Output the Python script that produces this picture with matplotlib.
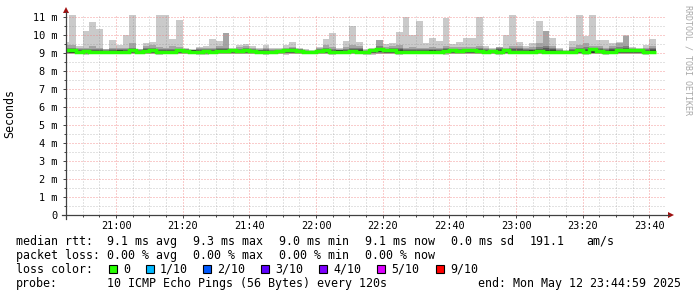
import numpy as np
import matplotlib
matplotlib.use("Agg")
import matplotlib.pyplot as plt
from matplotlib.patches import Rectangle, Polygon
from matplotlib.lines import Line2D

W, H = 697, 297

# 2-minute buckets starting at 20:44 (minutes since midnight)
start_min = 20 * 60 + 44

rtt_max = [
    9.60, 11.2, 9.40, 10.25, 10.70, 10.35, 9.25, 9.72, 9.44, 10.00,
    11.2, 9.25, 9.55, 9.60, 11.2, 11.2, 9.80, 10.85, 9.30, 9.20,
    9.35, 9.39, 9.78, 9.67, 10.12, 9.30, 9.44, 9.48, 9.39, 9.26,
    9.44, 9.26, 9.26, 9.44, 9.60, 9.30, 9.20, 9.17, 9.35, 9.78,
    10.13, 9.30, 9.67, 10.50, 9.63, 9.20, 9.30, 9.75, 9.50, 9.57,
    10.19, 11.0, 10.00, 10.80, 9.57, 9.81, 9.69, 10.93, 9.48, 9.63,
    9.85, 9.85, 11.0, 9.39, 9.30, 9.35, 10.00, 11.2, 9.60, 9.39,
    9.54, 10.78, 10.22, 9.85, 9.26, 9.17, 9.67, 11.2, 9.96, 11.2,
    9.72, 9.70, 9.54, 9.63, 10.00, 9.35, 9.30, 9.44, 9.78,
]
rtt_p9 = [
    9.45, 9.45, 9.30, 9.30, 9.40, 9.30, 9.20, 9.30, 9.30, 9.30,
    9.55, 9.20, 9.40, 9.42, 9.35, 9.30, 9.38, 9.35, 9.25, 9.15,
    9.30, 9.30, 9.30, 9.40, 10.10, 9.25, 9.35, 9.40, 9.30, 9.22,
    9.30, 9.20, 9.20, 9.30, 9.35, 9.25, 9.15, 9.12, 9.30, 9.45,
    9.35, 9.25, 9.35, 9.45, 9.40, 9.15, 9.25, 9.72, 9.35, 9.40,
    9.45, 9.30, 9.35, 9.30, 9.30, 9.35, 9.30, 9.40, 9.35, 9.35,
    9.35, 9.35, 9.40, 9.30, 9.25, 9.35, 9.30, 9.40, 9.40, 9.30,
    9.35, 9.55, 10.20, 9.40, 9.20, 9.12, 9.35, 9.45, 9.55, 9.40,
    9.40, 9.30, 9.40, 9.55, 9.95, 9.30, 9.25, 9.30, 9.40,
]
rtt_p8 = [
    9.28, 9.30, 9.22, 9.25, 9.25, 9.22, 9.15, 9.22, 9.20, 9.25,
    9.30, 9.15, 9.28, 9.30, 9.25, 9.22, 9.25, 9.25, 9.20, 9.12,
    9.22, 9.22, 9.22, 9.28, 9.30, 9.20, 9.25, 9.30, 9.22, 9.18,
    9.22, 9.15, 9.15, 9.22, 9.28, 9.20, 9.12, 9.10, 9.22, 9.30,
    9.22, 9.18, 9.25, 9.30, 9.28, 9.12, 9.20, 9.40, 9.25, 9.30,
    9.30, 9.22, 9.25, 9.22, 9.22, 9.25, 9.22, 9.28, 9.25, 9.25,
    9.25, 9.25, 9.28, 9.22, 9.18, 9.30, 9.22, 9.28, 9.28, 9.22,
    9.25, 9.35, 9.40, 9.28, 9.15, 9.10, 9.25, 9.30, 9.35, 9.28,
    9.28, 9.22, 9.28, 9.35, 9.40, 9.22, 9.20, 9.22, 9.28,
]
rtt_p7 = [
    9.20, 9.22, 9.16, 9.18, 9.18, 9.16, 9.12, 9.16, 9.14, 9.18,
    9.22, 9.12, 9.20, 9.22, 9.18, 9.16, 9.18, 9.20, 9.15, 9.10,
    9.16, 9.16, 9.16, 9.20, 9.22, 9.16, 9.18, 9.22, 9.16, 9.14,
    9.16, 9.12, 9.12, 9.16, 9.22, 9.16, 9.10, 9.08, 9.16, 9.22,
    9.16, 9.12, 9.18, 9.22, 9.20, 9.10, 9.16, 9.30, 9.20, 9.22,
    9.22, 9.16, 9.18, 9.16, 9.16, 9.18, 9.16, 9.20, 9.20, 9.18,
    9.20, 9.20, 9.20, 9.16, 9.14, 9.22, 9.16, 9.20, 9.20, 9.16,
    9.18, 9.25, 9.28, 9.20, 9.12, 9.08, 9.18, 9.22, 9.25, 9.25,
    9.20, 9.16, 9.20, 9.25, 9.28, 9.20, 9.16, 9.16, 9.20,
]
rtt_p6 = [
    9.16, 9.18, 9.12, 9.14, 9.12, 9.12, 9.10, 9.12, 9.16, 9.12,
    9.18, 9.08, 9.14, 9.18, 9.12, 9.12, 9.12, 9.16, 9.12, 9.16,
    9.10, 9.12, 9.12, 9.14, 9.16, 9.14, 9.14, 9.18, 9.12, 9.10,
    9.12, 9.10, 9.16, 9.14, 9.18, 9.12, 9.08, 9.06, 9.12, 9.18,
    9.12, 9.16, 9.12, 9.16, 9.14, 9.08, 9.14, 9.24, 9.18, 9.18,
    9.16, 9.10, 9.12, 9.12, 9.12, 9.14, 9.12, 9.16, 9.16, 9.14,
    9.16, 9.16, 9.16, 9.12, 9.10, 9.18, 9.14, 9.12, 9.12, 9.12,
    9.14, 9.18, 9.14, 9.16, 9.08, 9.06, 9.12, 9.18, 9.14, 9.20,
    9.16, 9.12, 9.14, 9.18, 9.20, 9.18, 9.14, 9.12, 9.16,
]
rtt_median = [
    9.17, 9.17, 9.07, 9.11, 9.07, 9.07, 9.07, 9.04, 9.04, 9.04,
    9.17, 9.04, 9.11, 9.17, 9.07, 9.07, 9.07, 9.17, 9.11, 9.04,
    9.04, 9.11, 9.07, 9.11, 9.11, 9.17, 9.11, 9.17, 9.11, 9.07,
    9.07, 9.07, 9.11, 9.17, 9.17, 9.11, 9.07, 9.07, 9.11, 9.17,
    9.04, 9.04, 9.04, 9.11, 9.07, 9.07, 9.17, 9.22, 9.17, 9.17,
    9.04, 9.04, 9.07, 9.07, 9.07, 9.07, 9.07, 9.11, 9.17, 9.11,
    9.17, 9.17, 9.11, 9.04, 9.11, 9.07, 9.17, 9.07, 9.07, 9.04,
    9.07, 9.11, 9.07, 9.07, 9.04, 9.07, 9.04, 9.17, 9.07, 9.22,
    9.11, 9.07, 9.07, 9.17, 9.17, 9.17, 9.17, 9.04, 9.07,
]
rtt_p5 = [
    9.04, 9.02, 9.02, 9.04, 9.02, 9.03, 9.02, 9.00, 9.02, 9.00,
    9.05, 9.00, 9.04, 9.06, 9.02, 9.02, 9.02, 9.04, 9.04, 9.00,
    9.00, 9.04, 9.02, 9.04, 9.04, 9.06, 9.04, 9.06, 9.04, 9.02,
    9.02, 9.02, 9.04, 9.04, 9.06, 9.04, 9.02, 9.02, 9.04, 9.04,
    9.00, 9.00, 9.00, 9.04, 9.02, 9.02, 9.06, 9.08, 9.06, 9.06,
    9.00, 9.00, 9.02, 9.02, 9.02, 9.02, 9.02, 9.04, 9.06, 9.04,
    9.06, 9.04, 9.04, 9.00, 9.04, 9.02, 9.04, 9.02, 9.02, 9.00,
    9.02, 9.04, 9.02, 9.02, 9.00, 9.02, 9.00, 9.04, 9.02, 9.02,
    9.04, 9.02, 9.02, 9.05, 9.05, 9.06, 9.06, 9.00, 9.02,
]
rtt_p4 = [
    9.01, 9.00, 9.00, 9.00, 9.00, 9.00, 9.00, 8.98, 9.00, 8.98,
    9.02, 8.98, 9.01, 9.02, 8.99, 9.00, 9.00, 9.01, 9.01, 8.98,
    8.98, 9.00, 9.00, 9.01, 9.01, 9.02, 9.01, 9.02, 9.01, 9.00,
    9.00, 9.00, 9.01, 9.01, 9.02, 9.01, 9.00, 9.00, 9.01, 9.01,
    8.98, 8.98, 8.98, 9.01, 9.00, 9.00, 9.02, 9.04, 9.02, 9.02,
    8.98, 8.98, 9.00, 9.00, 9.00, 9.00, 9.00, 9.01, 9.02, 9.01,
    9.02, 9.01, 9.01, 8.98, 9.01, 9.00, 9.01, 9.00, 9.00, 8.98,
    9.00, 9.01, 9.00, 9.00, 8.98, 9.00, 8.98, 9.01, 9.00, 9.00,
    9.01, 9.00, 9.00, 9.02, 9.02, 9.02, 9.02, 8.98, 9.00,
]
rtt_p3 = [
    8.99, 8.98, 8.98, 8.97, 8.98, 8.98, 8.98, 8.96, 8.98, 8.96,
    8.99, 8.96, 8.98, 8.99, 8.96, 8.98, 8.98, 8.98, 8.98, 8.96,
    8.96, 8.97, 8.98, 8.98, 8.98, 8.99, 8.98, 8.99, 8.98, 8.98,
    8.97, 8.98, 8.98, 8.98, 8.99, 8.98, 8.98, 8.98, 8.98, 8.98,
    8.96, 8.96, 8.96, 8.98, 8.98, 8.97, 8.99, 9.00, 8.99, 8.99,
    8.96, 8.96, 8.98, 8.98, 8.98, 8.98, 8.98, 8.98, 8.99, 8.98,
    8.99, 8.98, 8.98, 8.96, 8.98, 8.97, 8.98, 8.98, 8.98, 8.96,
    8.98, 8.98, 8.98, 8.98, 8.96, 8.98, 8.96, 8.98, 8.97, 8.98,
    8.98, 8.98, 8.98, 8.99, 8.99, 8.99, 8.99, 8.96, 8.98,
]
rtt_p2 = [
    8.97, 8.95, 8.96, 8.93, 8.96, 8.95, 8.96, 8.95, 8.95, 8.94,
    8.97, 8.95, 8.95, 8.97, 8.93, 8.96, 8.95, 8.95, 8.96, 8.95,
    8.93, 8.92, 8.96, 8.95, 8.95, 8.97, 8.95, 8.97, 8.95, 8.96,
    8.93, 8.95, 8.96, 8.93, 8.96, 8.96, 8.96, 8.96, 8.95, 8.95,
    8.93, 8.95, 8.95, 8.95, 8.96, 8.93, 8.92, 8.96, 8.95, 8.97,
    8.93, 8.95, 8.95, 8.96, 8.95, 8.95, 8.95, 8.93, 8.95, 8.96,
    8.96, 8.95, 8.95, 8.95, 8.96, 8.93, 8.95, 8.96, 8.95, 8.96,
    8.96, 8.95, 8.95, 8.96, 8.95, 8.96, 8.95, 8.95, 8.93, 8.95,
    8.96, 8.93, 8.95, 8.96, 8.95, 8.95, 8.96, 8.93, 8.95,
]
rtt_min = [
    8.95, 8.92, 8.95, 8.88, 8.95, 8.92, 8.95, 8.95, 8.93, 8.93,
    8.95, 8.95, 8.93, 8.95, 8.90, 8.95, 8.93, 8.93, 8.95, 8.95,
    8.90, 8.88, 8.95, 8.93, 8.93, 8.95, 8.93, 8.95, 8.93, 8.95,
    8.90, 8.93, 8.95, 8.90, 8.93, 8.95, 8.95, 8.95, 8.93, 8.93,
    8.90, 8.95, 8.93, 8.93, 8.95, 8.90, 8.88, 8.93, 8.93, 8.95,
    8.90, 8.93, 8.93, 8.95, 8.93, 8.93, 8.93, 8.90, 8.93, 8.95,
    8.93, 8.93, 8.93, 8.93, 8.95, 8.90, 8.93, 8.95, 8.93, 8.95,
    8.95, 8.93, 8.93, 8.95, 8.93, 8.95, 8.93, 8.93, 8.90, 8.93,
    8.95, 8.90, 8.93, 8.95, 8.93, 8.93, 8.93, 8.90, 8.93,
]

time_labels = ["21:00", "21:20", "21:40", "22:00", "22:20", "22:40", "23:00", "23:20", "23:40"]
y_labels = ["0", "1 m", "2 m", "3 m", "4 m", "5 m", "6 m", "7 m", "8 m", "9 m", "10 m", "11 m"]

loss_labels = ["0", "1/10", "2/10", "3/10", "4/10", "5/10", "9/10"]
loss_colors = ["#26ff00", "#00b8ff", "#0059ff", "#5e00ff", "#7e00ff", "#dd00ff", "#ff0000"]
smoke_colors = ["#cacaca", "#a4a4a4", "#7e7e7e", "#585858", "#323232"]

mono = "DejaVu Sans Mono"


def fx(x):
    return x / W


def fy(y):
    return 1 - y / H


fig = plt.figure(figsize=(W / 100, H / 100), dpi=100)
fig.patch.set_facecolor("white")
ax = fig.add_axes([fx(66), fy(215), 600 / W, 200 / H])

edges = start_min + 2 * np.arange(len(rtt_max) + 1)
layers = [(rtt_min, rtt_max), (rtt_p2, rtt_p9), (rtt_p3, rtt_p8),
          (rtt_p4, rtt_p7), (rtt_p5, rtt_p6)]
for (lo, hi), c in zip(layers, smoke_colors):
    ax.stairs(hi, edges, baseline=lo, fill=True, color=c, lw=0,
              antialiased=False, zorder=1)

ax.stairs(rtt_median, edges, baseline=None, color=loss_colors[0], lw=2.5, zorder=3)

x0 = 20 * 60 + 44 + 59 / 60
ax.set_xlim(x0, x0 + 180)
ax.set_ylim(0, 200 / 18)

tick_pos = [int(t[:2]) * 60 + int(t[3:]) for t in time_labels]
ax.set_xticks(tick_pos)
ax.set_xticklabels(time_labels, family=mono, fontsize=7.4)
ax.set_xticks(np.arange(1245, 1425, 5), minor=True)
ax.set_yticks(np.arange(len(y_labels)))
ax.set_yticklabels(y_labels, family=mono, fontsize=7.4)
ax.set_yticks(np.arange(0.5, 11, 1), minor=True)

ax.tick_params(which="both", direction="out", color="#404040", width=0.7)
ax.tick_params(which="major", length=2.5, pad=2)
ax.tick_params(which="minor", length=1.5)
ax.tick_params(axis="y", which="major", pad=3.5)

ax.set_axisbelow(False)
for gl in ax.get_xgridlines() + ax.get_ygridlines():
    gl.set_zorder(2)
ax.grid(which="minor", color="#8c8c8c", alpha=0.5, lw=0.72, ls=(0, (1, 2)), zorder=2)
ax.grid(which="major", color="#f08080", alpha=0.8, lw=0.72, ls=(0, (1, 2)), zorder=2)

for s in ["top", "right", "left", "bottom"]:
    ax.spines[s].set_visible(False)

# axes with arrows
axis_col = "#404040"
arrow_col = "#a01010"
fig.add_artist(Line2D([fx(62), fx(669)], [fy(215), fy(215)], color=axis_col, lw=0.9))
fig.add_artist(Line2D([fx(66), fx(66)], [fy(219), fy(12)], color=axis_col, lw=0.9))
fig.add_artist(Polygon([(fx(668), fy(212)), (fx(668), fy(218)), (fx(674), fy(215))],
                       closed=True, color=arrow_col, lw=0))
fig.add_artist(Polygon([(fx(63), fy(13)), (fx(69), fy(13)), (fx(66), fy(7))],
                       closed=True, color=arrow_col, lw=0))

fig.text(fx(10), fy(114), "Seconds", rotation=90, family=mono, fontsize=8.4,
         ha="center", va="center")
fig.text(fx(688), fy(5), "RRDTOOL / TOBI OETIKER", rotation=270, family=mono,
         fontsize=6.0, color="#a8a8a8", ha="center", va="top")


def txt(x, y, s):
    fig.text(fx(x), fy(y), s, family=mono, fontsize=8.4, ha="left", va="baseline")


cols = [107, 193, 279, 365, 451]
txt(16, 245, "median rtt:")
for x, s in zip(cols, ["9.1 ms avg", "9.3 ms max", "9.0 ms min", "9.1 ms now", "0.0 ms sd"]):
    txt(x, 245, s)
txt(530, 245, "191.1")
txt(586, 245, "am/s")

txt(16, 259, "packet loss:")
for x, s in zip(cols, ["0.00 % avg", "0.00 % max", "0.00 % min", "0.00 % now"]):
    txt(x, 259, s)

txt(16, 273, "loss color:")
box_x = [109, 146, 203, 261, 319, 377, 436]
for bx, lab, c in zip(box_x, loss_labels, loss_colors):
    fig.add_artist(Rectangle((fx(bx), fy(273)), 8 / W, 8 / H, facecolor=c,
                             edgecolor="black", lw=0.8))
    txt(bx + 14, 273, lab)

txt(16, 287, "probe:")
txt(107, 287, "10 ICMP Echo Pings (56 Bytes) every 120s")
txt(478, 287, "end: Mon May 12 23:44:59 2025")

fig.savefig("out.png", dpi=100, facecolor="white")
